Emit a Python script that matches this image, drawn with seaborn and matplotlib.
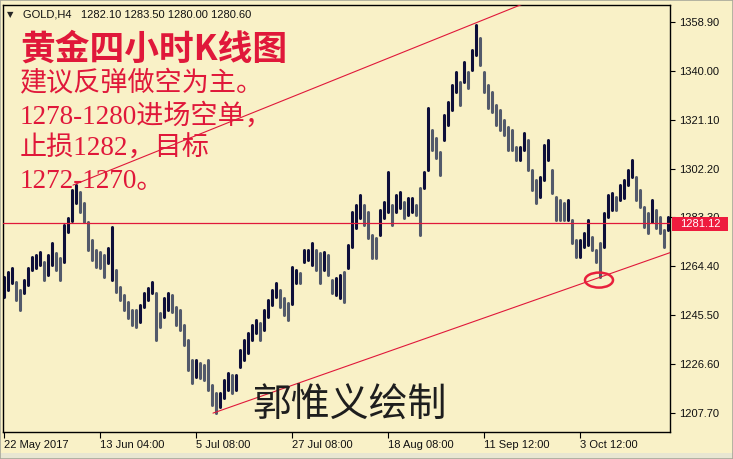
import matplotlib
matplotlib.use("Agg")
import matplotlib.pyplot as plt
from matplotlib.patches import Ellipse, Rectangle
import seaborn as sns
import numpy as np
import pandas as pd

# GOLD H4, 22 May - mid Oct 2017, one sample = 4 bars
highs = [
    1260.3, 1262.2, 1263.7, 1258.3, 1255.2, 1259.1, 1263.7, 1268.0, 1268.8, 1269.9,
    1266.1, 1268.8, 1273.4, 1269.5, 1267.6, 1280.4, 1283.1, 1293.9, 1295.8, 1293.1,
    1288.9, 1281.5, 1274.6, 1270.7, 1269.9, 1268.8, 1271.5, 1279.6, 1263.0, 1256.4,
    1253.3, 1250.6, 1247.5, 1247.5, 1249.4, 1254.1, 1256.0, 1258.3, 1254.1, 1246.4,
    1252.2, 1254.1, 1253.3, 1248.7, 1247.5, 1241.7, 1235.9, 1228.2, 1228.2, 1227.0,
    1226.3, 1228.2, 1218.5, 1215.4, 1215.4, 1220.5, 1223.2, 1222.4, 1222.4, 1232.1,
    1235.9, 1238.6, 1241.7, 1243.7, 1242.5, 1247.5, 1251.4, 1255.2, 1257.9, 1255.2,
    1252.2, 1250.2, 1264.1, 1263.0, 1261.8, 1270.7, 1270.7, 1273.4, 1270.7, 1269.5,
    1269.9, 1268.8, 1259.1, 1259.9, 1261.0, 1262.2, 1272.6, 1285.4, 1288.1, 1292.0,
    1288.1, 1285.4, 1276.5, 1275.3, 1286.2, 1289.2, 1300.8, 1288.1, 1292.0, 1293.1,
    1289.2, 1290.8, 1290.8, 1288.1, 1294.7, 1300.8, 1325.6, 1317.1, 1314.0, 1308.6,
    1322.9, 1327.9, 1334.5, 1339.5, 1335.6, 1343.3, 1339.5, 1348.0, 1357.6, 1352.6,
    1339.5, 1334.5, 1331.7, 1326.7, 1324.8, 1320.9, 1318.2, 1317.1, 1310.5, 1310.5,
    1315.9, 1313.2, 1301.6, 1297.7, 1298.9, 1311.3, 1313.2, 1301.6, 1291.2, 1290.0,
    1288.9, 1290.0, 1282.3, 1274.6, 1274.6, 1277.3, 1282.3, 1275.7, 1270.7, 1273.4,
    1285.0, 1292.0, 1292.7, 1291.2, 1295.8, 1297.7, 1301.6, 1305.5, 1298.9, 1293.9,
    1287.3, 1285.0, 1290.0, 1286.2, 1283.5, 1278.4, 1283.5,
]
lows = [
    1252.5, 1255.2, 1257.9, 1251.4, 1247.5, 1254.1, 1257.2, 1263.0, 1263.7, 1264.9,
    1259.1, 1261.0, 1264.9, 1263.0, 1259.1, 1266.0, 1277.7, 1282.0, 1288.9, 1285.4,
    1281.5, 1270.7, 1266.8, 1264.1, 1263.7, 1260.3, 1265.7, 1259.1, 1254.5, 1251.4,
    1247.5, 1244.4, 1241.7, 1240.9, 1242.9, 1248.7, 1251.4, 1254.1, 1235.9, 1240.9,
    1244.8, 1247.5, 1246.7, 1241.7, 1239.8, 1234.0, 1224.3, 1219.3, 1221.6, 1221.2,
    1220.5, 1216.6, 1210.8, 1207.7, 1210.0, 1213.5, 1216.6, 1215.4, 1216.6, 1225.5,
    1228.2, 1230.9, 1235.9, 1238.6, 1235.9, 1239.8, 1244.8, 1249.4, 1252.5, 1248.7,
    1245.6, 1243.7, 1250.0, 1257.9, 1257.9, 1266.1, 1266.8, 1264.9, 1263.0, 1257.9,
    1263.0, 1261.0, 1254.1, 1253.3, 1252.2, 1250.6, 1263.7, 1272.0, 1279.2, 1283.1,
    1280.4, 1275.3, 1267.6, 1267.6, 1276.5, 1283.1, 1285.4, 1280.4, 1285.4, 1286.9,
    1283.1, 1284.2, 1285.4, 1284.2, 1276.5, 1294.7, 1301.6, 1309.3, 1306.2, 1299.7,
    1313.2, 1319.0, 1324.8, 1331.7, 1326.7, 1335.6, 1333.3, 1340.3, 1346.0, 1342.2,
    1331.7, 1325.6, 1324.0, 1319.0, 1317.1, 1315.1, 1309.3, 1309.3, 1305.5, 1305.5,
    1309.3, 1301.6, 1293.9, 1288.9, 1291.2, 1297.7, 1305.5, 1292.7, 1282.3, 1282.3,
    1282.3, 1282.3, 1273.4, 1268.0, 1268.0, 1271.9, 1272.6, 1270.7, 1266.1, 1260.3,
    1272.0, 1283.5, 1286.2, 1286.2, 1290.0, 1290.8, 1295.8, 1298.9, 1290.0, 1287.3,
    1279.6, 1277.3, 1281.5, 1279.2, 1277.3, 1271.9, 1278.4,
]

date_labels = ["22 May 2017", "13 Jun 04:00", "5 Jul 08:00", "27 Jul 08:00",
               "18 Aug 08:00", "11 Sep 12:00", "3 Oct 12:00"]
tick_bars = [0, 24, 48, 72, 96, 120, 144]
price_ticks = [1207.70, 1226.60, 1245.50, 1264.40, 1283.30, 1302.20, 1321.10, 1340.00, 1358.90]

last_price = 1281.12
header = "GOLD,H4   1282.10 1283.50 1280.00 1280.60"

# trend lines drawn by hand on the chart (bar, price)
upper_line = ([17.25, 140.0], [1295.8, 1372.2])
lower_line = ([52.25, 170.0], [1207.7, 1271.6])
circle_at = (148.75, 1259.1)

title = "黄金四小时K线图"
notes = ["建议反弹做空为主。", "1278-1280进场空单，", "止损1282，目标", "1272-1270。"]
signature = "郭惟义绘制"

BG = "#F9F1C7"
RED = "#E0183A"
W, H = 733, 459

sns.set_theme(style="white")
plt.rcParams["font.family"] = ["Liberation Sans", "DejaVu Sans"]

fig = plt.figure(figsize=(W / 100, H / 100), dpi=100, facecolor=BG)
ax = fig.add_axes([3 / W, 1 - 432 / H, 667 / W, 427 / H], facecolor=BG)

# one vertical segment per sample, coloured by direction
n = len(highs)
mids = (np.array(highs) + np.array(lows)) / 2
direction = ["up"] + ["up" if mids[i] >= mids[i - 1] else "down" for i in range(1, n)]
df = pd.DataFrame({
    "bar": np.repeat(np.arange(n), 2),
    "price": np.ravel(np.column_stack([lows, highs])),
    "dir": np.repeat(direction, 2),
})
sns.lineplot(data=df, x="bar", y="price", units="bar", estimator=None, hue="dir",
             palette={"up": "#0E0F3A", "down": "#535a6b"}, linewidth=2.2,
             legend=False, sort=False, ax=ax)

ax.axhline(last_price, color=RED, lw=0.9, zorder=3)
ax.plot(*upper_line, color=RED, lw=0.8, zorder=3)
ax.plot(*lower_line, color=RED, lw=0.8, zorder=3)
ax.add_patch(Ellipse(circle_at, 7, 5.8, fill=False, ec="#E8203C", lw=1.8, zorder=4))

ax.set_xlim(-0.25, 166.5)
ax.set_ylim(1200.4, 1365.4)
ax.set_xlabel("")
ax.set_ylabel("")

ax.yaxis.tick_right()
ax.set_yticks(price_ticks)
ax.set_yticklabels([f"{v:.2f}" for v in price_ticks])
ax.set_xticks(tick_bars)
ax.set_xticklabels(date_labels, ha="left")
ax.tick_params(axis="y", which="major", right=True, left=False, length=3.5, width=0.8,
               color="black", labelsize=8, labelcolor="#111111", pad=3)
ax.tick_params(axis="x", which="major", bottom=True, length=4, width=0.8,
               color="black", labelsize=8, labelcolor="#111111", pad=1.5)
for s in ax.spines.values():
    s.set_color("black")
    s.set_linewidth(1.0)

# current price box on the right scale (covers the 1283.30 label, as in MT4)
fig.add_artist(Rectangle((672 / W, 1 - 231 / H), 56 / W, 14 / H,
                         transform=fig.transFigure, fc="#EE1C3E", ec="none", zorder=5))
fig.text(700 / W, 1 - 224 / H, f"{last_price:.2f}", color="white", fontsize=8,
         ha="center", va="center", zorder=6)

# header
fig.text(7 / W, 1 - 14.5 / H, "▼", fontsize=6, family=["DejaVu Sans"], va="center")
fig.text(23 / W, 1 - 14.5 / H, header, fontsize=8, va="center", color="#111111")

# analysis text
fig.text(20 / W, 1 - 60 / H, title, color=RED, fontsize=25, fontweight="bold",
         family=["Noto Sans CJK SC", "DejaVu Sans"], va="baseline")
for i, line in enumerate(notes):
    fig.text(20 / W, 1 - (91 + 32.5 * i) / H, line, color=RED, fontsize=19.5,
             family=["Liberation Serif", "Noto Sans CJK SC"], va="baseline")

fig.text(252 / W, 1 - 417 / H, signature, color="#1E1E1E", fontsize=28,
         family=["Noto Sans CJK SC"], fontweight="light", va="baseline")

# window frame and bottom strip
fig.add_artist(Rectangle((0, 0), 1, 6 / H, transform=fig.transFigure,
                         fc="#E8E6D2", ec="none", zorder=0))
fig.add_artist(Rectangle((0, 0), 1, 1, transform=fig.transFigure,
                         fill=False, ec="#A8A89A", lw=1.2, zorder=7))

fig.savefig("out.png", dpi=100, facecolor=BG)
